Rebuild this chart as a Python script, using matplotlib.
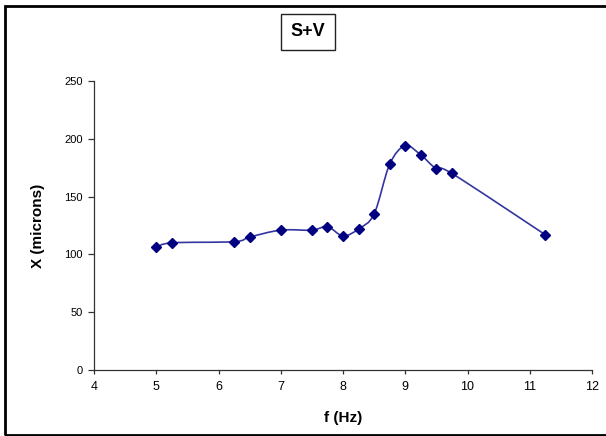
import numpy as np
import matplotlib.pyplot as plt
from matplotlib.path import Path
from matplotlib.patches import PathPatch, Rectangle

freq = [5.0, 5.25, 6.25, 6.5, 7.0, 7.5, 7.75, 8.0, 8.25, 8.5, 8.75, 9.0, 9.25, 9.5, 9.75, 11.25]
amp = [106, 110, 111, 115, 121, 121, 124, 116, 122, 135, 178, 194, 186, 174, 170, 117]

x_ticks = [4, 5, 6, 7, 8, 9, 10, 11, 12]
y_ticks = [0, 50, 100, 150, 200, 250]

plt.rcParams['font.family'] = ['Liberation Sans', 'DejaVu Sans']

fig = plt.figure(figsize=(6.06, 4.36), dpi=100)
ax = fig.add_axes([94/606, 1 - 370/436, 498/606, 289/436])

# smoothed line like Excel's "smoothed line" option (Catmull-Rom as bezier path)
pts = np.column_stack([freq, amp]).astype(float)
ext = np.vstack([pts[0], pts, pts[-1]])
verts = [tuple(pts[0])]
codes = [Path.MOVETO]
for i in range(1, len(ext) - 2):
    p0, p1, p2, p3 = ext[i - 1], ext[i], ext[i + 1], ext[i + 2]
    c1 = p1 + (p2 - p0) / 6
    c2 = p2 - (p3 - p1) / 6
    verts += [tuple(c1), tuple(c2), tuple(p2)]
    codes += [Path.CURVE4] * 3
ax.add_patch(PathPatch(Path(verts, codes), fill=False, edgecolor='#3535a0', lw=1.2))

ax.plot(freq, amp, linestyle='none', marker='D', markersize=5,
        color='#000080', zorder=3)

ax.set_xlim(4, 12)
ax.set_ylim(0, 250)
ax.set_xticks(x_ticks)
ax.set_yticks(y_ticks)
ax.tick_params(axis='x', labelsize=9, length=3, width=0.9, color='#333333', pad=5)
ax.tick_params(axis='y', labelsize=8, length=4, width=0.9, color='#333333', pad=4)
for side in ['top', 'right']:
    ax.spines[side].set_visible(False)
for side in ['left', 'bottom']:
    ax.spines[side].set_color('#333333')
    ax.spines[side].set_linewidth(0.9)

ax.set_xlabel('f (Hz)', fontsize=11, fontweight='bold', labelpad=13)
ax.set_ylabel('X (microns)', fontsize=11, fontweight='bold', labelpad=14)

fig.text(308/606, 1 - 32/436, 'S+V', ha='center', va='center',
         fontsize=13, fontweight='bold',
         bbox=dict(boxstyle='square,pad=0.55', facecolor='white',
                   edgecolor='#222222', lw=1.0))

# outer chart border
fig.patches.append(Rectangle((5/606, 1 - 435/436), 1.0, 429/436,
                             transform=fig.transFigure, fill=False,
                             edgecolor='black', lw=2.0, clip_on=False))

fig.savefig('out.png', dpi=100)
